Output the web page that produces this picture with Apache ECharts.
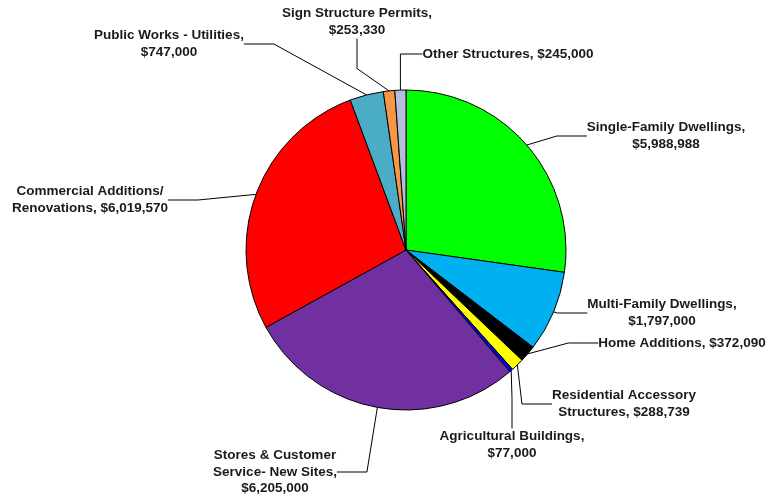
<!DOCTYPE html>
<html>
<head>
<meta charset="utf-8">
<script src="https://cdn.jsdelivr.net/npm/echarts@6/dist/echarts.min.js"></script>
<style>html,body{margin:0;padding:0;background:#fff;}#c{width:780px;height:497px;}</style>
</head>
<body>
<div id="c"></div>
<script>
var categories = [
  "Single-Family Dwellings",
  "Multi-Family Dwellings",
  "Home Additions",
  "Residential Accessory\nStructures",
  "Agricultural Buildings",
  "Stores & Customer\nService- New Sites",
  "Commercial Additions/\nRenovations",
  "Public Works - Utilities",
  "Sign Structure Permits",
  "Other Structures"
];
var values = [5988988, 1797000, 372090, 288739, 77000, 6205000, 6019570, 747000, 253330, 245000];
var valueOnNewLine = [true, true, false, false, true, true, false, true, true, false];
var colors = ["#00FF00", "#00B0F0", "#000000", "#FFFF00", "#0000FF", "#7030A0", "#FF0000", "#4BACC6", "#F79646", "#B3BEDC"];
// label anchor positions (layout only)
var labelPos = [[666,136],[662,313],[682,343],[624,404],[512,445],[275,472],[90,200],[169,44],[357,22],[508,54]];

function fmt(v){ return "$" + v.toLocaleString("en-US"); }

var chart = echarts.init(document.getElementById("c"));
chart.setOption({
  animation: false,
  backgroundColor: "#fff",
  series: [{
    type: "pie",
    center: [406, 250],
    radius: 160,
    startAngle: 90,
    clockwise: true,
    data: categories.map(function(n, i){
      return { name: n, value: values[i], itemStyle: { color: colors[i] } };
    }),
    itemStyle: { borderColor: "#000", borderWidth: 1 },
    label: {
      show: true,
      position: "outside",
      fontFamily: "Liberation Sans, Arial, sans-serif",
      fontWeight: "bold",
      fontSize: 13.5,
      lineHeight: 16.5,
      color: "#1a1a1a",
      align: "center",
      formatter: function(p){
        return p.name + "," + (valueOnNewLine[p.dataIndex] ? "\n" : " ") + fmt(p.value);
      }
    },
    labelLine: { show: true, lineStyle: { color: "#000", width: 1 } },
    labelLayout: function(p){
      var pos = labelPos[p.dataIndex];
      return { x: pos[0], y: pos[1], align: "center", verticalAlign: "middle" };
    },
    emphasis: { disabled: true }
  }]
});
</script>
</body>
</html>
